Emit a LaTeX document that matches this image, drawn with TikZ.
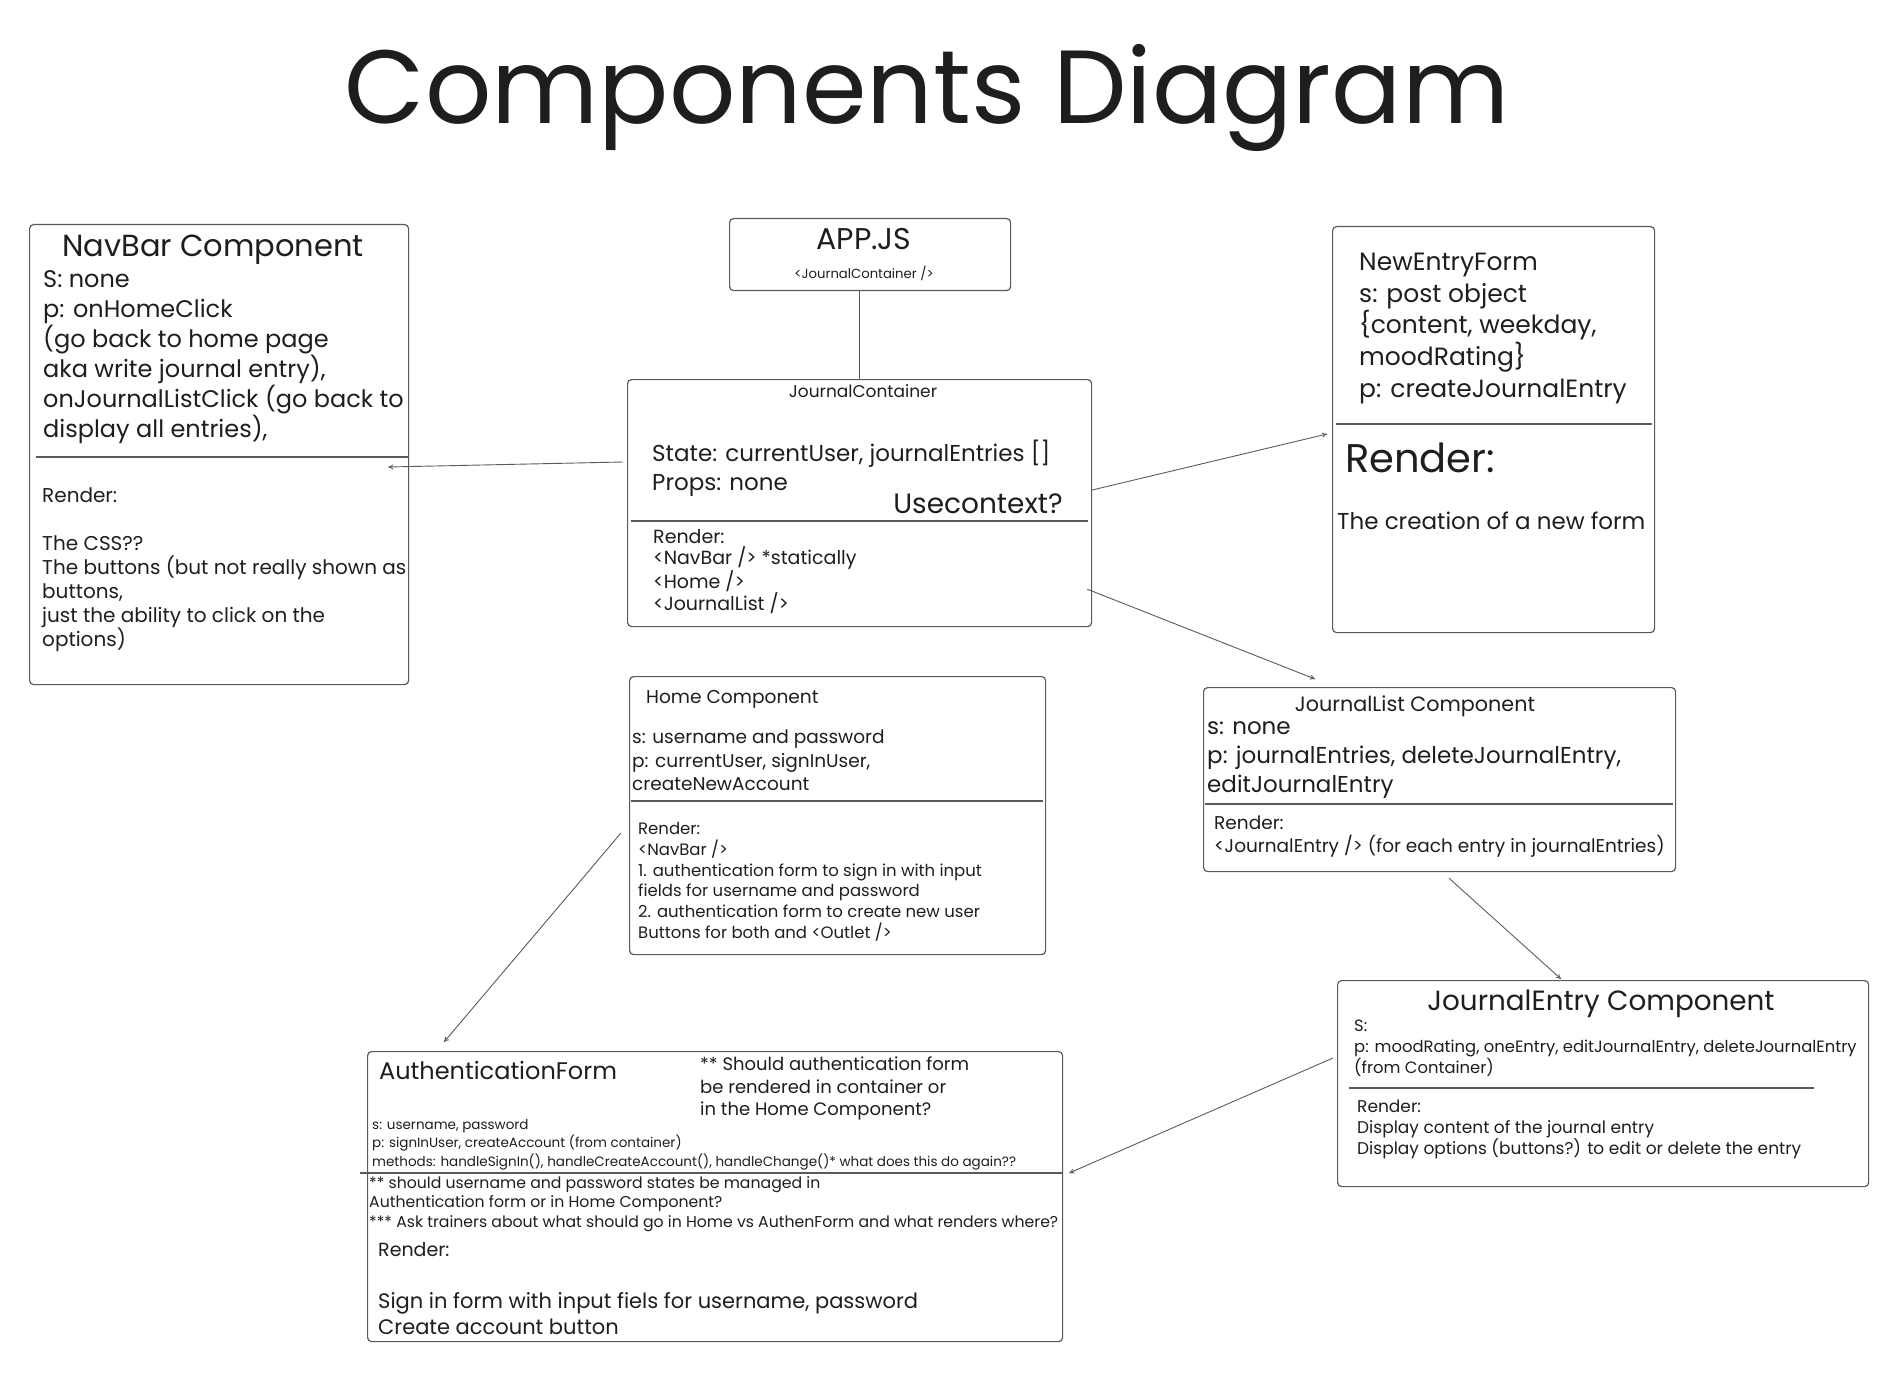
\documentclass[tikz,border=0pt]{standalone}
\usepackage{fontspec}
\setmainfont{Poppins}
\usepackage{tikz}
\usetikzlibrary{arrows.meta}
\definecolor{ink}{HTML}{1E1E1E}
\definecolor{edge}{HTML}{5A5A5A}
\newcommand{\fsz}[2]{\fontsize{#1}{#2}\selectfont}

\begin{document}
\begin{tikzpicture}[x=1pt, y=-1pt]
	\tikzset{
		box/.style = {rectangle, draw=edge, line width=1.2pt, rounded corners=4pt, anchor=north west, inner sep=0pt},
		divider/.style = {draw=edge, line width=1.1pt},
		txt/.style = {anchor=north west, align=left, inner sep=0pt, text=ink},
		lbl/.style = {inner sep=0pt, text=ink},
		link/.style = {draw=edge, line width=0.9pt, -{To[length=5pt, width=5pt]}},
		plain/.style = {draw=edge, line width=0.9pt}
	}
	\useasboundingbox (0,0) rectangle (1892,1396);

	\node[lbl, anchor=base, font=\fsz{104}{110}] (title) at (927,124) {Components Diagram};

	% navbar
	\node[box, minimum width=379pt, minimum height=460pt] (navbar) at (29,224) {};
	\node[lbl, font=\fsz{30.5}{32}] (navtitle) at (213,250) {NavBar Component};
	\node[txt, font=\fsz{24}{30}] (navprops) at (43,270) {S: none\\p: onHomeClick\\(go back to home page\\aka write journal entry),\\onJournalListClick (go back to\\display all entries),};
	\draw[divider] (36,457) -- (408,457);
	\node[txt, font=\fsz{20}{24}] (navrender) at (42,487) {Render:\\[24pt]The CSS??\\The buttons (but not really shown as\\buttons,\\just the ability to click on the\\options)};

	% app
	\node[box, minimum width=281pt, minimum height=72pt] (app) at (729,218) {};
	\node[lbl, font=\fsz{30}{32}] (apptitle) at (864,239) {APP.JS};
	\node[lbl, font=\fsz{13.2}{15}] (apptag) at (864,273) {<JournalContainer />};

	% container
	\node[box, minimum width=464pt, minimum height=247pt] (jc) at (627,379) {};
	\node[lbl, font=\fsz{17}{19}] (jctitle) at (863,391) {JournalContainer};
	\node[txt, font=\fsz{23}{29}] (jcstate) at (652,440) {State: currentUser, journalEntries []\\Props: none};
	\node[lbl, anchor=east, font=\fsz{28}{30}] (jcctx) at (1063,504) {Usecontext?};
	\draw[divider] (631,521) -- (1088,521);
	\node[txt, font=\fsz{19}{21.7}] (jcrender) at (653,529) {Render:\\<NavBar /> *statically\\<Home />\\<JournalList />};

	% new entry form
	\node[box, minimum width=322pt, minimum height=406pt] (nef) at (1332,226) {};
	\node[txt, font=\fsz{25}{31.6}] (nefprops) at (1359,253) {NewEntryForm\\s: post object\\\{content, weekday,\\moodRating\}\\p: createJournalEntry};
	\draw[divider] (1336,424) -- (1652,424);
	\node[lbl, anchor=west, font=\fsz{40}{42}] (nefhead) at (1345,458) {Render:};
	\node[lbl, anchor=west, font=\fsz{23}{25}] (nefrender) at (1337,521) {The creation of a new form};

	% home
	\node[box, minimum width=416pt, minimum height=278pt] (home) at (629,676) {};
	\node[lbl, anchor=west, font=\fsz{18.6}{21}] (hometitle) at (646,699) {Home Component};
	\node[txt, font=\fsz{18.5}{23.5}] (homeprops) at (632,730) {s: username and password\\p: currentUser, signInUser,\\createNewAccount};
	\draw[divider] (631,801) -- (1043,801);
	\node[txt, font=\fsz{16.5}{20.8}] (homerender) at (638,822) {Render:\\<NavBar />\\1. authentication form to sign in with input\\fields for username and password\\2. authentication form to create new user\\Buttons for both and <Outlet />};

	% journal list
	\node[box, minimum width=472pt, minimum height=184pt] (jl) at (1203,687) {};
	\node[lbl, font=\fsz{20.7}{22}] (jltitle) at (1415,706) {JournalList Component};
	\node[txt, font=\fsz{23}{29}] (jlprops) at (1207,721) {s: none\\p: journalEntries, deleteJournalEntry,\\editJournalEntry};
	\draw[divider] (1205,804) -- (1673,804);
	\node[txt, font=\fsz{18.5}{23}] (jlrender) at (1214,816) {Render:\\<JournalEntry /> (for each entry in journalEntries)};

	% journal entry
	\node[box, minimum width=531pt, minimum height=206pt] (je) at (1337,980) {};
	\node[lbl, font=\fsz{27.8}{30}] (jetitle) at (1601,1004) {JournalEntry Component};
	\node[txt, font=\fsz{16.4}{21}] (jeprops) at (1354,1020) {S:\\p: moodRating, oneEntry, editJournalEntry, deleteJournalEntry\\(from Container)};
	\draw[divider] (1349,1088) -- (1814,1088);
	\node[txt, font=\fsz{17}{21}] (jerender) at (1357,1100) {Render:\\Display content of the journal entry\\Display options (buttons?) to edit or delete the entry};

	% authentication form
	\node[box, minimum width=695pt, minimum height=290pt] (auth) at (367,1051) {};
	\node[lbl, anchor=west, font=\fsz{24}{26}] (authtitle) at (379,1070) {AuthenticationForm};
	\node[txt, font=\fsz{18}{22.5}] (authnote) at (700,1057) {** Should authentication form\\be rendered in container or\\in the Home Component?};
	\node[txt, font=\fsz{13.5}{18.5}] (authprops) at (372,1119) {s: username, password\\p: signInUser, createAccount (from container)\\methods: handleSignIn(), handleCreateAccount(), handleChange()* what does this do again??};
	\draw[divider] (360,1173) -- (1062,1173);
	\node[txt, font=\fsz{15.7}{19.5}] (authq) at (369,1176) {** should username and password states be managed in\\Authentication form or in Home Component?\\*** Ask trainers about what should go in Home vs AuthenForm and what renders where?};
	\node[lbl, anchor=west, font=\fsz{19}{21}] (authhead) at (378,1250) {Render:};
	\node[txt, font=\fsz{21}{26}] (authrender) at (378,1292) {Sign in form with input fiels for username, password\\Create account button};

	% connectors
	\draw[plain] (jc.north |- app.south) -- (jc.north);
	\draw[link] ([shift={(-4,83)}]jc.north west) -- ([shift={(-21,243)}]navbar.north east);
	\draw[link] ([shift={(0,111)}]jc.north east) -- ([shift={(-5,208)}]nef.north west);
	\draw[link] ([shift={(-5,-38)}]jc.south east) -- ([shift={(112,-8)}]jl.north west);
	\draw[link] ([shift={(-8,157)}]home.north west) -- ([shift={(77,-9)}]auth.north west);
	\draw[link] ([shift={(246,6)}]jl.south west) -- ([shift={(224,-1)}]je.north west);
	\draw[link] ([shift={(-4,78)}]je.north west) -- ([shift={(6,122)}]auth.north east);
\end{tikzpicture}
\end{document}
